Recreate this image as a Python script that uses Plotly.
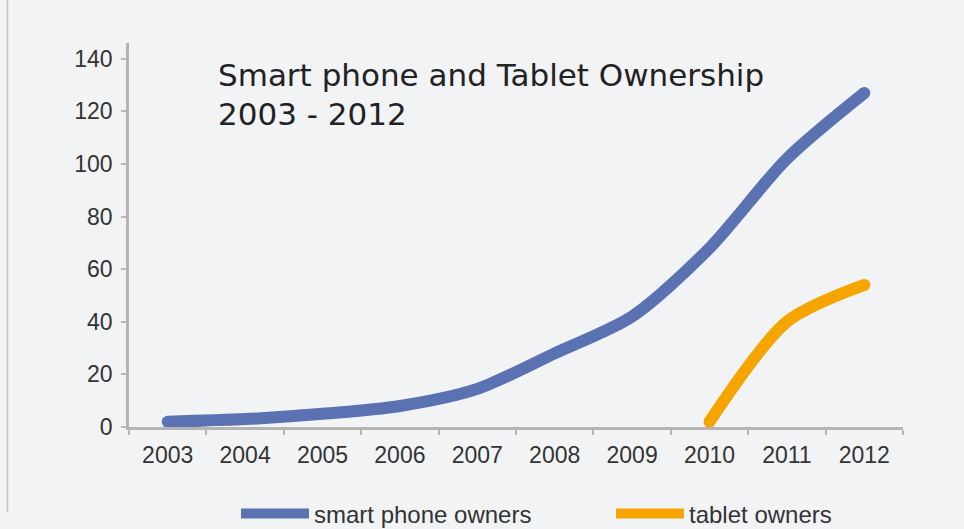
import plotly.graph_objects as go

years = ["2003", "2004", "2005", "2006", "2007", "2008", "2009", "2010", "2011", "2012"]
smartphone = [2, 3, 5, 8, 14.5, 28, 42, 68, 102, 127]
tablet_years = ["2010", "2011", "2012"]
tablet = [2, 40, 54]
y_ticks = [0, 20, 40, 60, 80, 100, 120, 140]
title_lines = ["Smart phone and Tablet Ownership", "2003 - 2012"]

BLUE = "#5a72b2"
ORANGE = "#f6a500"
BG = "#f2f3f5"
FONT = "Liberation Sans, Arial, sans-serif"
TFONT = "DejaVu Sans, sans-serif"

fig = go.Figure()
fig.add_trace(go.Scatter(x=years, y=smartphone, name="smart phone owners", mode="lines",
                         line=dict(color=BLUE, width=12, shape="spline", smoothing=0.8),
                         legend="legend"))
fig.add_trace(go.Scatter(x=tablet_years, y=tablet, name="tablet owners", mode="lines",
                         line=dict(color=ORANGE, width=12, shape="spline", smoothing=0.8),
                         legend="legend2"))
# round end caps
fig.add_trace(go.Scatter(x=[years[0], years[-1]], y=[smartphone[0], smartphone[-1]], mode="markers",
                         marker=dict(color=BLUE, size=12), showlegend=False, hoverinfo="skip"))
fig.add_trace(go.Scatter(x=[tablet_years[0], tablet_years[-1]], y=[tablet[0], tablet[-1]], mode="markers",
                         marker=dict(color=ORANGE, size=12), showlegend=False, hoverinfo="skip"))

W_PLOT = 964 - 129 - 61
H_PLOT = 529 - 43 - 102

def px_x(p):
    return (p - 129) / W_PLOT

def px_y(p):
    return (427 - p) / H_PLOT

leg_common = dict(orientation="h", yanchor="middle", xanchor="left", itemwidth=68,
                  bgcolor="rgba(0,0,0,0)", font=dict(size=24, color="#333333", family=FONT))

fig.update_layout(
    width=964, height=529,
    margin=dict(l=129, r=61, t=43, b=102, autoexpand=False),
    paper_bgcolor=BG, plot_bgcolor=BG,
    font=dict(family=FONT, size=23, color="#333333"),
    showlegend=True,
    legend=dict(x=px_x(236), y=px_y(514), **leg_common),
    legend2=dict(x=px_x(611), y=px_y(514), **leg_common),
    annotations=[
        dict(text=title_lines[0], xref="paper", yref="paper", x=px_x(216), y=px_y(75),
             xanchor="left", yanchor="middle", showarrow=False,
             font=dict(size=31, color="#222222", family=TFONT)),
        dict(text=title_lines[1], xref="paper", yref="paper", x=px_x(216), y=px_y(114),
             xanchor="left", yanchor="middle", showarrow=False,
             font=dict(size=31, color="#222222", family=TFONT)),
    ],
    shapes=[dict(type="line", xref="paper", yref="paper", x0=px_x(7.5), x1=px_x(7.5),
                 y0=px_y(512), y1=px_y(0), line=dict(color="#c4c4c8", width=1.5))],
)
fig.update_xaxes(type="category", range=[-0.5, 9.5], tickson="boundaries", ticks="outside", ticklen=5,
                 tickcolor="#b8b8b8", tickwidth=2, showline=True, linecolor="#b4b4b4", linewidth=2.5,
                 showgrid=False, zeroline=False, ticklabelstandoff=6,
                 tickfont=dict(size=23, color="#333333"))
fig.update_yaxes(range=[0, 146], tickvals=y_ticks, ticks="outside", ticklen=5, tickcolor="#b8b8b8",
                 tickwidth=2, showline=True, linecolor="#b4b4b4", linewidth=2.5, showgrid=False,
                 zeroline=False, ticklabelstandoff=4, tickfont=dict(size=23, color="#333333"))

fig.write_html("out.html", config={"displayModeBar": False},
               post_script="document.body.style.margin='0';")
